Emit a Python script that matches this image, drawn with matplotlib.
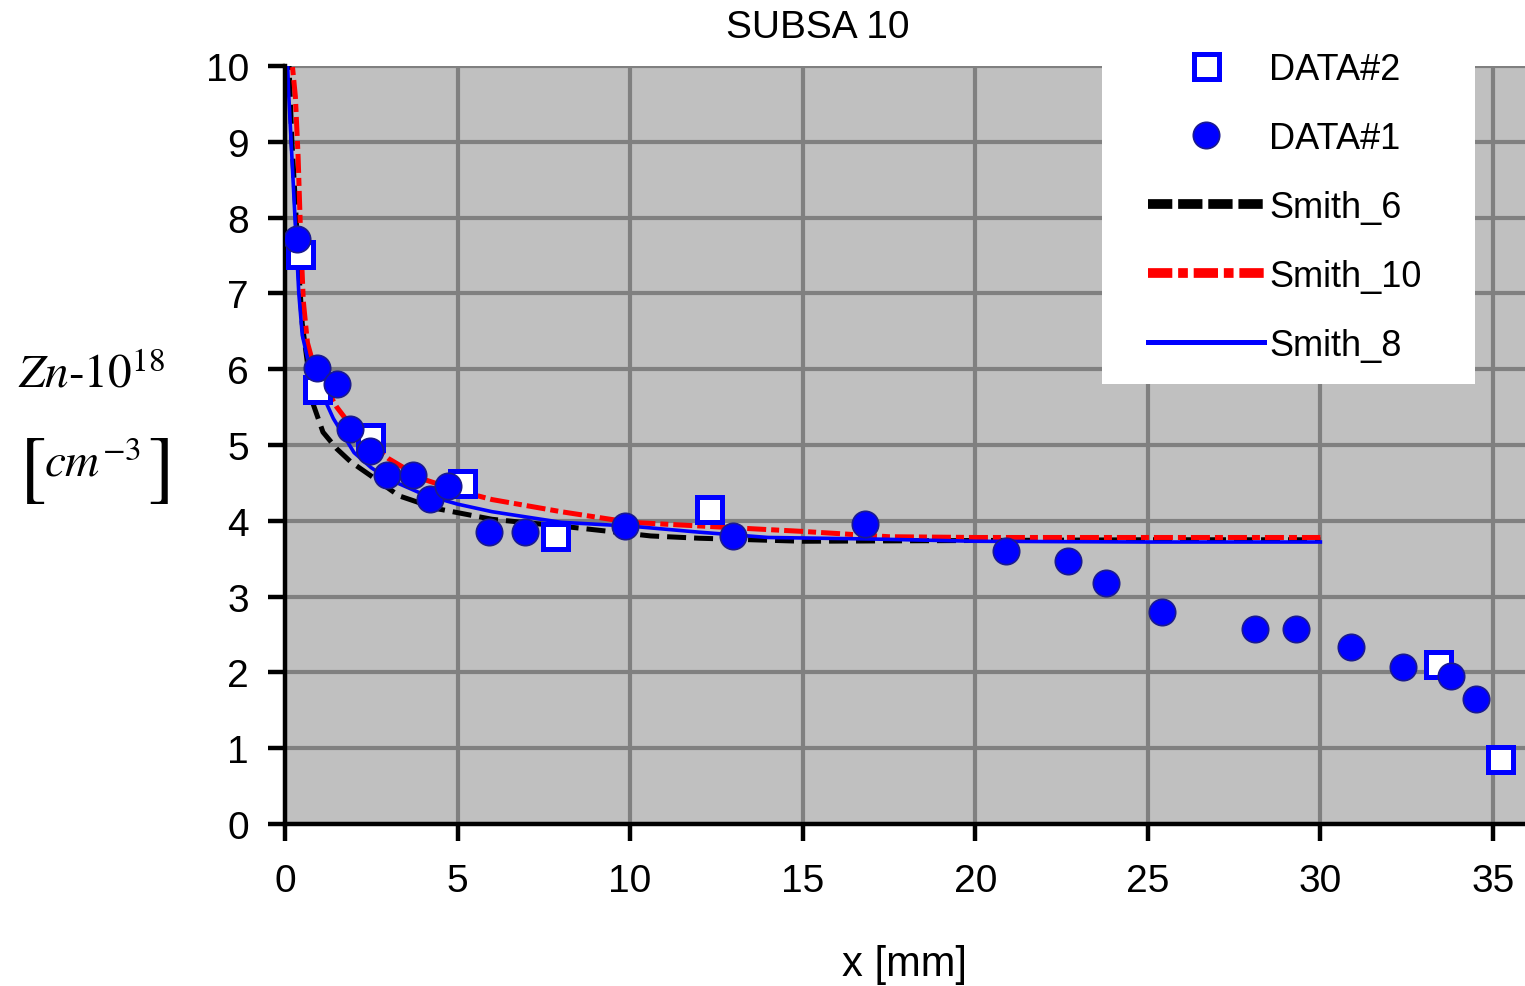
import matplotlib.pyplot as plt
from matplotlib.lines import Line2D
from matplotlib.patches import Rectangle

plt.rcParams['font.family'] = ['Liberation Sans', 'DejaVu Sans']
plt.rcParams['mathtext.fontset'] = 'stix'

# DATA#1 (filled circles)
x1 = [0.35, 0.92, 1.5, 1.88, 2.46, 2.95, 3.72, 4.2, 4.73, 5.9, 6.96, 9.86,
      12.99, 16.8, 20.9, 22.7, 23.8, 25.4, 28.1, 29.3, 30.9, 32.4, 33.8, 34.5]
y1 = [7.72, 6.02, 5.8, 5.21, 4.92, 4.6, 4.6, 4.29, 4.46, 3.85, 3.85, 3.93,
      3.8, 3.96, 3.6, 3.47, 3.18, 2.8, 2.57, 2.57, 2.33, 2.07, 1.95, 1.65]

# DATA#2 (open squares)
x2 = [0.43, 0.92, 2.46, 5.12, 7.83, 12.3, 33.4, 35.2]
y2 = [7.52, 5.74, 5.1, 4.5, 3.8, 4.16, 2.11, 0.86]

# Smith_6 (black dashed)
x6 = [0.1, 0.2, 0.3, 0.4, 0.5, 0.8, 1.1, 1.5, 1.9, 2.5, 3.3, 4.4, 6.0, 8.0,
      10.6, 12.0, 15.0, 20.0, 25.0, 30.0]
y6 = [10.2, 9.0, 8.2, 7.3, 6.6, 5.56, 5.17, 4.95, 4.78, 4.59, 4.33, 4.16,
      4.02, 3.93, 3.8, 3.77, 3.73, 3.74, 3.75, 3.75]

# Smith_10 (red dash-dot)
x10 = [0.15, 0.3, 0.38, 0.45, 0.53, 0.65, 0.8, 1.0, 1.5, 2.0, 3.0, 4.0, 5.0,
       6.0, 7.0, 8.0, 10.0, 12.5, 15.0, 17.5, 20.0, 25.0, 30.0]
y10 = [10.3, 9.6, 8.8, 7.8, 6.9, 6.35, 6.1, 5.9, 5.5, 5.2, 4.82, 4.55, 4.4,
       4.28, 4.2, 4.12, 3.98, 3.92, 3.86, 3.79, 3.78, 3.78, 3.78]

# Smith_8 (blue solid)
x8 = [0.04, 0.1, 0.2, 0.3, 0.4, 0.5, 0.65, 0.8, 1.0, 1.4, 2.0, 2.5, 3.0, 4.0,
      5.0, 6.0, 7.0, 8.0, 10.0, 12.0, 14.0, 17.0, 20.0, 25.0, 30.0]
y8 = [10.5, 9.7, 8.8, 7.9, 7.0, 6.45, 6.15, 5.95, 5.75, 5.35, 4.9, 4.7, 4.55,
      4.35, 4.22, 4.12, 4.05, 3.98, 3.93, 3.85, 3.78, 3.76, 3.73, 3.72, 3.72]

xticks = [0, 5, 10, 15, 20, 25, 30, 35]
yticks = [0, 1, 2, 3, 4, 5, 6, 7, 8, 9, 10]

fig = plt.figure(figsize=(15.25, 9.87), dpi=100)
ax = fig.add_axes([285 / 1525, 1 - 825 / 987, 1 - 285 / 1525, (825 - 67) / 987])
ax.set_facecolor('#c0c0c0')

ax.plot(x6, y6, color='black', lw=3.6, dashes=(3.8, 1.6), zorder=2)
ax.plot(x10, y10, color='#ff0000', lw=3.6, dashes=(3.8, 1.0, 1.6, 1.0), zorder=2.1)
ax.plot(x8, y8, color='#0000ff', lw=2.6, zorder=2.2)

ax.plot(x2, y2, ls='none', marker='s', ms=18, mfc='white', mec='#0000ff', mew=3.6, zorder=3)
ax.plot(x1, y1, ls='none', marker='o', ms=19, mfc='#0000ff', mec='#1a1a90', mew=1.2, zorder=3.1)

ax.set_xlim(0, 35.93)
ax.set_ylim(0, 10)
ax.set_xticks(xticks)
ax.set_yticks(yticks)
ax.grid(True, color='#808080', lw=3)
ax.set_axisbelow(True)
for s in ['top', 'right']:
    ax.spines[s].set_visible(False)
for s in ['left', 'bottom']:
    ax.spines[s].set_linewidth(3.2)
    ax.spines[s].set_color('black')
ax.tick_params(axis='both', length=12, width=3.2, labelsize=28, color='black')
ax.tick_params(axis='y', pad=14)
ax.tick_params(axis='x', pad=16)

fig.text(818 / 1525, 1 - 28 / 987, 'SUBSA 10', fontsize=28, ha='center', va='center')
fig.text(905 / 1525, 1 - 965 / 987, 'x [mm]', fontsize=30, ha='center', va='center')
fig.text(92 / 1525, 1 - 375 / 987, r'$Zn\text{-}10^{18}$', fontsize=34, ha='center', va='center')
fig.text(92 / 1525, 1 - 465 / 987, r'$cm^{-3}$', fontsize=34, ha='center', va='center')
fig.text(32 / 1525, 1 - 470 / 987, r'$\mathrm{[}$', fontsize=58, ha='center', va='center')
fig.text(158 / 1525, 1 - 470 / 987, r'$\mathrm{]}$', fontsize=58, ha='center', va='center')

# legend box
ax.add_patch(Rectangle((1102 / 1525, 1 - 385 / 987), 373 / 1525, 323 / 987,
                       transform=fig.transFigure, facecolor='white', edgecolor='none',
                       clip_on=False, zorder=4))

handles = [
    Line2D([], [], ls='none', marker='s', ms=18, mfc='white', mec='#0000ff', mew=3.6),
    Line2D([], [], ls='none', marker='o', ms=19, mfc='#0000ff', mec='#1a1a90', mew=1.2),
    Line2D([], [], color='black', lw=7, dashes=(2.5, 0.6)),
    Line2D([], [], color='#ff0000', lw=7, dashes=(2.5, 0.6, 1.0, 0.6)),
    Line2D([], [], color='#0000ff', lw=3.6),
]
labels = ['DATA#2', 'DATA#1', 'Smith_6', 'Smith_10', 'Smith_8']
leg = ax.legend(handles, labels, loc='upper left', bbox_to_anchor=(1148 / 1525, 1 - 53 / 987),
                bbox_transform=fig.transFigure, frameon=False, fontsize=26,
                borderpad=0, borderaxespad=0, handlelength=3.2, handletextpad=0.15,
                labelspacing=0.94)
leg.set_zorder(5)

fig.savefig('out.png', dpi=100)
